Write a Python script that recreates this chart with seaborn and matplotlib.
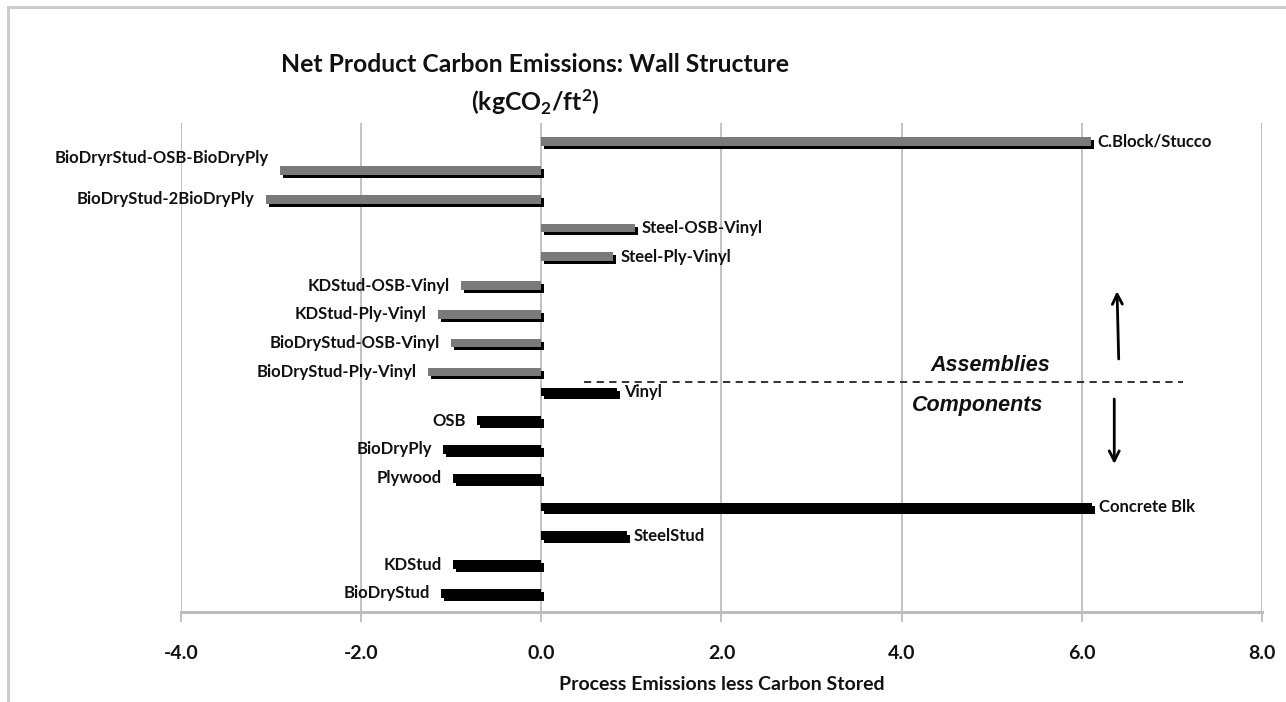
import numpy as np
import pandas as pd
import seaborn as sns
import matplotlib
matplotlib.use("Agg")
import matplotlib.pyplot as plt
import matplotlib.patheffects as pe
from matplotlib.lines import Line2D

# ---------------- data ----------------
categories = [
    "C.Block/Stucco", "BioDryrStud-OSB-BioDryPly", "BioDryStud-2BioDryPly",
    "Steel-OSB-Vinyl", "Steel-Ply-Vinyl", "KDStud-OSB-Vinyl", "KDStud-Ply-Vinyl",
    "BioDryStud-OSB-Vinyl", "BioDryStud-Ply-Vinyl",
    "Vinyl", "OSB", "BioDryPly", "Plywood", "Concrete Blk", "SteelStud",
    "KDStud", "BioDryStud",
]
assemblies = [6.10, -2.90, -3.06, 1.04, 0.80, -0.89, -1.15, -1.00, -1.26,
              None, None, None, None, None, None, None, None]
components = [None, None, None, None, None, None, None, None, None,
              0.84, -0.71, -1.09, -0.98, 6.11, 0.95, -0.98, -1.11]
xticks = [-4.0, -2.0, 0.0, 2.0, 4.0, 6.0, 8.0]
xtick_labels = ["-4.0", "-2.0", "0.0", "2.0", "4.0", "6.0", "8.0"]

title = "Net Product Carbon Emissions: Wall Structure\n(kgCO$_\\mathregular{2}$/ft$^\\mathregular{2}$)"
xlabel = "Process Emissions less Carbon Stored"

rows = []
for c, a, k in zip(categories, assemblies, components):
    if a is not None:
        rows.append((c, "Assemblies", a))
    if k is not None:
        rows.append((c, "Components", k))
df = pd.DataFrame(rows, columns=["category", "series", "value"])

# ---------------- style ----------------
sns.set_theme(style="white")
plt.rcParams["font.family"] = ["Lato", "DejaVu Sans"]
plt.rcParams["mathtext.fontset"] = "custom"
plt.rcParams["mathtext.rm"] = "Lato:bold"
plt.rcParams["mathtext.it"] = "Lato:bold"
plt.rcParams["mathtext.bf"] = "Lato:bold"

fig = plt.figure(figsize=(12.86, 7.02), dpi=100)
ax = fig.add_axes([181 / 1286, 1 - 612 / 702, (1262 - 181) / 1286, (612 - 123) / 702])

sns.barplot(
    data=df, x="value", y="category", hue="series",
    order=categories, hue_order=["Components", "Assemblies"],
    palette={"Assemblies": "#7a7a7a", "Components": "#000000"},
    width=0.6, dodge=True, saturation=1, errorbar=None, legend=False, ax=ax,
    linewidth=0,
)

shadow = [pe.SimplePatchShadow(offset=(2.2, -2.2), shadow_rgbFace="black", alpha=1.0), pe.Normal()]
label_nudge = {"BioDryrStud-OSB-BioDryPly": 9}
for p in ax.patches:
    w = p.get_width()
    if np.isnan(w):
        continue
    p.set_path_effects(shadow)
    yc = p.get_y() + p.get_height() / 2
    idx = int(round(yc))
    name = categories[idx]
    xend = p.get_x() + w
    dy = label_nudge.get(name, 0)
    if w >= 0:
        ax.annotate(name, (xend, yc), xytext=(5, dy), textcoords="offset points",
                    ha="left", va="center", fontsize=12, fontweight="bold", color="#111111")
    else:
        ax.annotate(name, (xend, yc), xytext=(-8, dy), textcoords="offset points",
                    ha="right", va="center", fontsize=12, fontweight="bold", color="#111111")

# axes
ax.set_xlim(-4, 8)
ax.set_ylim(len(categories) - 0.5, -0.5)
ax.set_xticks(xticks)
ax.set_xticklabels(xtick_labels, fontsize=14, fontweight="bold", color="#111111")
ax.set_yticks([])
ax.set_ylabel("")
ax.set_xlabel(xlabel, fontsize=14, fontweight="bold", color="#111111", labelpad=10)
for x in xticks:
    ax.axvline(x, color="#bdbdbd", lw=1.3, zorder=0)
for s in ["top", "right", "left"]:
    ax.spines[s].set_visible(False)
ax.spines["bottom"].set_color("#bdbdbd")
ax.spines["bottom"].set_linewidth(2.2)
ax.tick_params(axis="x", direction="out", length=7, width=1.3, color="#bdbdbd", pad=17, bottom=True)

# annotations: assemblies / components separator
ax.plot([0.47, 7.12], [8.5, 8.5], ls=(0, (4, 3)), color="#222222", lw=1.3)
ax.text(4.98, 7.92, "Assemblies", ha="center", va="center", fontsize=15.5,
        fontstyle="italic", fontweight="bold", family="Liberation Sans", color="#111111")
ax.text(4.84, 9.31, "Components", ha="center", va="center", fontsize=15.5,
        fontstyle="italic", fontweight="bold", family="Liberation Sans", color="#111111")
ax.annotate("", xy=(6.39, 5.25), xytext=(6.41, 7.8),
            arrowprops=dict(arrowstyle="->,head_length=0.6,head_width=0.3", lw=2, color="black"))
ax.annotate("", xy=(6.36, 11.45), xytext=(6.36, 9.0),
            arrowprops=dict(arrowstyle="->,head_length=0.6,head_width=0.3", lw=2, color="black"))

# title
fig.text(535 / 1286, 1 - 85 / 702, title, ha="center", va="center", fontsize=17.8,
         fontweight="bold", color="#111111", linespacing=1.45)

# chart-area border (top and left visible)
fig.add_artist(Line2D([7.5 / 1286, 1.0], [1 - 6.5 / 702, 1 - 6.5 / 702], color="#cccccc", lw=2.2))
fig.add_artist(Line2D([7.5 / 1286, 7.5 / 1286], [0.0, 1 - 6.5 / 702], color="#cccccc", lw=2.2))

fig.savefig("out.png", dpi=100)
